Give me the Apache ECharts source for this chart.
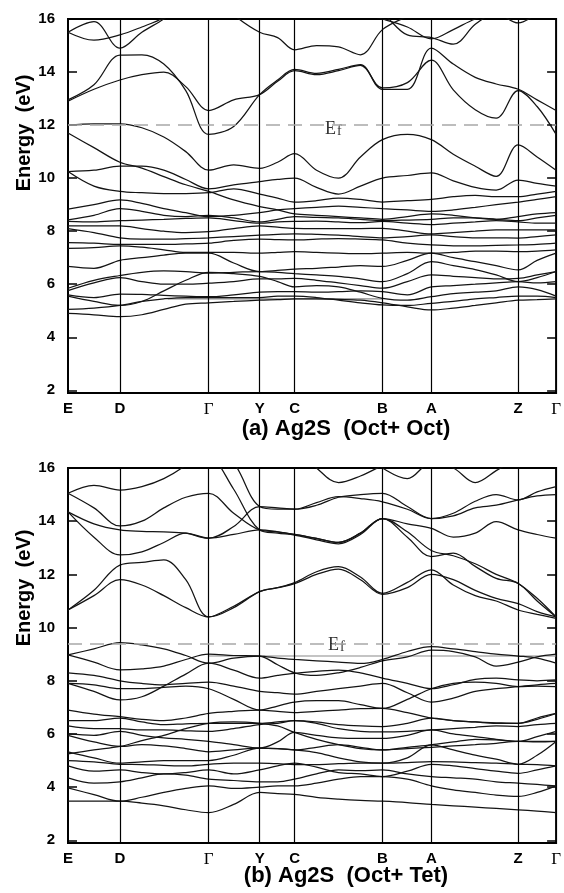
<!DOCTYPE html>
<html><head><meta charset="utf-8">
<script src="https://cdn.jsdelivr.net/npm/echarts@6/dist/echarts.min.js"></script>
<style>html,body{margin:0;padding:0;background:#fff}#c{width:564px;height:893px}</style>
</head><body><div id="c"></div>
<script>
// k-path sample positions (path length units) and high-symmetry points
const K = [0,26,52,74,96,118,141,166,192,210,227,249,271,293,315,340,364,386,408,429,451,470,489];
const symPos = [0,52,141,192,227,315,364,451,489];
const symLab = ['E','D','Γ','Y','C','B','A','Z','Γ'];
const yTicks = [2,4,6,8,10,12,14,16];
const efTop = 12.0, efBot = 9.4;
const flatTop = {from:100, to:315, e:5.45};
const flatBot = {from:141, to:489, e:8.93};

// (a) Oct+Oct bands
const A01=[15.5,15.9,14.9,15.5,16.0,16.6,17,16.15,15.5,15.3,14.84,15.0,14.95,14.65,15.6,16.1,16.5,16.6,16.5,16.3,16.4,16.7,17];
const A02=[15.5,15.2,15.4,15.7,16.05,16.6,17,17,17,17,16.8,16.6,16.4,16.2,16.0,15.7,15.25,15.6,16.0,16.2,15.85,16.2,16.6];
const A03=[17,17,17,17,17,17,17,17,17,17,17,17,16.8,16.5,16.2,15.4,15.3,15.05,15.8,16.3,16.6,17,17];
const A04=[12.95,13.52,14.64,14.65,14.3,13.3,11.65,11.95,13.15,13.7,14.1,13.95,14.1,14.28,13.35,13.35,14.9,14.3,13.8,13.55,13.35,12.95,12.55];
const A05=[12.9,13.35,13.7,13.9,14.0,13.45,12.55,12.95,13.15,13.65,14.05,13.9,14.05,14.25,13.4,13.6,14.45,13.33,12.58,12.26,13.3,12.7,11.65];
const A06=[12.0,12.05,12.05,11.9,11.55,11.0,10.3,10.5,10.37,10.6,10.92,10.3,10.0,10.8,11.45,11.65,11.45,10.9,10.45,10.07,11.25,10.8,10.3];
const A07=[11.7,11.15,10.6,10.38,10.06,9.75,9.5,9.18,8.93,8.8,8.65,8.6,8.55,8.5,8.45,8.55,8.65,8.6,8.5,8.45,8.55,8.65,8.7];
const A08=[10.25,10.3,10.45,10.45,10.3,9.95,9.6,9.75,9.87,9.95,10.0,9.65,9.4,9.7,10.0,10.1,10.2,9.9,9.65,9.55,9.93,9.8,9.7];
const A09=[10.25,9.7,9.5,9.45,9.42,9.42,9.45,9.6,9.4,9.25,9.1,9.15,9.25,9.2,9.1,9.15,9.2,9.3,9.35,9.3,9.3,9.4,9.5];
const A10=[8.83,9.0,9.18,9.05,8.85,8.7,8.55,8.6,8.7,8.8,8.85,8.9,8.95,8.9,8.85,8.8,8.75,8.8,8.9,9.0,9.1,9.2,9.3];
const L01=[4.9,4.85,4.78,4.85,5.05,5.25,5.3,5.35,5.4,5.42,5.45,5.45,5.43,5.4,5.3,5.15,5.03,5.1,5.2,5.3,5.4,5.42,5.45];
const L02=[5.05,5.1,5.2,5.35,5.45,5.5,5.5,5.5,5.5,5.55,5.55,5.5,5.4,5.3,5.22,5.2,5.28,5.35,5.45,5.5,5.55,5.55,5.5];
const L03=[5.55,5.35,5.2,5.35,5.75,6.15,6.45,6.4,6.3,6.1,5.9,5.95,5.9,5.7,5.47,5.4,5.53,5.65,5.7,5.75,5.9,5.8,5.55];
const L04=[5.6,5.5,5.63,5.62,5.58,5.55,5.53,5.6,5.7,5.72,5.72,5.7,5.72,5.75,5.72,5.6,5.9,5.95,6.0,6.05,6.1,6.05,6.1];
const L05=[5.76,6.05,6.25,6.1,6.0,6.0,6.04,6.1,6.2,6.2,6.22,6.15,6.05,5.95,5.85,6.1,6.35,6.3,6.25,6.2,6.22,6.35,6.48];
const L06=[5.85,6.15,6.33,6.45,6.5,6.48,6.42,6.45,6.48,6.45,6.4,6.35,6.3,6.2,6.1,6.4,6.85,6.7,6.55,6.35,6.1,6.25,6.48];
const L07=[6.67,6.6,6.9,7.0,7.1,7.17,7.17,6.8,6.48,6.52,6.57,6.6,6.65,6.7,6.67,6.9,7.17,7.0,6.85,6.7,6.54,6.9,7.17];
const L08=[7.35,7.38,7.45,7.4,7.3,7.2,7.2,7.2,7.17,7.2,7.23,7.2,7.17,7.15,7.17,7.2,7.17,7.2,7.25,7.25,7.23,7.25,7.3];
const L09=[7.57,7.55,7.5,7.5,7.5,7.52,7.55,7.65,7.7,7.68,7.67,7.7,7.72,7.7,7.67,7.55,7.48,7.45,7.45,7.47,7.48,7.5,7.55];
const L10=[8.1,7.95,7.75,7.7,7.7,7.72,7.75,7.8,7.85,7.88,7.9,7.88,7.85,7.8,7.75,7.8,7.86,7.8,7.75,7.75,7.74,7.8,7.86];
const L11=[8.2,8.2,8.2,8.1,8.0,7.95,7.98,8.1,8.2,8.15,8.11,8.1,8.1,8.1,8.11,8.0,7.9,7.95,8.0,8.05,8.05,8.05,8.05];
const L12=[8.37,8.35,8.4,8.42,8.45,8.48,8.5,8.4,8.3,8.35,8.37,8.38,8.35,8.32,8.37,8.3,8.25,8.3,8.35,8.4,8.35,8.3,8.3];
const L13=[8.43,8.6,8.85,8.75,8.6,8.55,8.6,8.5,8.35,8.45,8.55,8.52,8.5,8.45,8.4,8.42,8.45,8.5,8.5,8.45,8.4,8.5,8.6];

// (b) Oct+Tet bands
const B01=[15.05,15.35,15.17,15.3,15.6,16.1,16.8,17,17,17,16.8,16.0,15.45,15.7,16.1,16.6,17,17,17,17,17,17,17];
const B02=[17,17,17,17,17,17,17,17,17,17,17,17,17,16.6,16.0,15.6,16.2,16.0,15.45,15.9,16.4,16.8,17];
const B03=[15.05,14.5,13.82,14.0,14.5,14.9,15.05,14.3,13.67,13.6,13.5,13.35,13.2,13.55,14.1,13.9,13.73,13.4,13.55,13.98,13.67,13.5,13.36];
const B04=[17,17,17,17,17,17,17,16.2,14.55,14.45,14.45,14.7,14.92,14.85,14.73,14.45,14.1,14.3,14.75,15.0,14.8,15.1,15.3];
const B05=[14.35,13.4,12.73,12.85,13.2,13.55,13.36,13.8,14.55,14.5,14.45,14.6,14.9,15.0,15.05,14.55,14.1,14.2,14.5,14.6,14.8,14.95,15.0];
const B06=[17,17,17,17,17,16.8,16.6,15.2,13.67,13.55,13.48,13.3,13.15,13.5,14.1,13.4,12.67,12.8,12.3,11.85,11.66,11.0,10.4];
const B07=[10.66,11.2,11.8,11.6,11.2,10.75,10.4,10.75,11.35,11.5,11.69,12.1,12.29,11.9,11.29,11.7,12.17,11.6,11.2,11.0,10.66,10.5,10.35];
const B08=[10.66,11.4,12.35,12.45,12.55,11.8,10.4,10.8,11.35,11.5,11.65,12.0,12.2,11.8,11.25,11.5,12.0,11.8,11.4,11.1,10.9,10.6,10.4];
const B09=[8.97,9.2,9.43,9.35,9.2,8.95,8.66,8.85,8.93,8.85,8.8,8.75,8.7,8.65,8.8,9.1,9.28,9.2,9.1,9.0,8.93,8.85,8.66];
const B10=[8.97,8.7,8.41,8.45,8.55,8.8,9.0,8.95,8.93,8.6,8.3,8.2,8.3,8.5,8.75,8.9,9.15,9.1,8.9,8.55,8.7,8.9,9.0];
const B11=[14.35,13.9,13.67,13.62,13.6,13.55,13.36,13.5,13.67,13.6,13.5,13.35,13.2,13.55,14.1,13.6,12.9,12.7,12.4,12.0,11.66,11.1,10.4];
const C01=[3.47,3.47,3.47,3.4,3.3,3.15,3.04,3.35,3.8,3.76,3.73,3.62,3.55,3.5,3.47,3.42,3.35,3.3,3.25,3.2,3.15,3.1,3.04];
const C02=[3.97,3.72,3.47,3.62,3.8,3.95,4.05,3.95,4.0,4.05,4.05,4.15,4.3,4.4,4.4,4.3,4.05,3.9,3.8,3.7,3.65,3.8,4.05];
const C03=[4.35,4.15,4.2,4.35,4.5,4.45,4.3,4.25,4.2,4.2,4.3,4.5,4.65,4.62,4.65,4.5,4.4,4.35,4.3,4.2,4.15,4.1,4.05];
const C04=[4.8,4.6,4.65,4.55,4.5,4.55,4.65,4.5,4.65,4.8,4.9,4.75,4.55,4.5,4.4,4.6,4.86,4.8,4.7,4.6,4.52,4.65,4.8];
const C05=[5.0,4.95,4.86,4.85,4.82,4.8,4.86,4.9,4.9,4.88,4.85,4.85,4.88,4.9,4.9,4.92,4.96,4.95,4.92,4.9,4.86,4.85,4.8];
const C06=[5.33,5.1,4.9,4.95,5.0,5.0,5.0,5.2,5.47,5.45,5.4,5.3,5.1,4.95,4.9,5.1,5.59,5.4,5.2,5.05,4.86,5.2,5.72];
const C07=[5.95,5.7,5.53,5.6,5.55,5.45,5.33,5.4,5.47,5.45,5.4,5.5,5.6,5.5,5.4,5.5,5.59,5.7,5.8,5.78,5.72,5.72,5.72];
const C08=[6.0,5.95,6.1,5.95,5.85,5.8,5.72,5.6,5.47,5.7,6.06,5.95,5.85,5.83,5.83,5.95,6.15,6.0,5.9,5.8,5.72,5.9,6.1];
const C09=[6.3,6.2,6.2,6.15,6.15,6.12,6.1,6.2,6.35,6.4,6.5,6.4,6.2,6.1,6.08,6.1,6.15,6.2,6.25,6.3,6.28,6.35,6.4];
const C10=[6.5,6.5,6.6,6.45,6.35,6.38,6.4,6.4,6.4,6.45,6.5,6.45,6.35,6.3,6.28,6.4,6.6,6.5,6.45,6.4,6.4,6.55,6.77];
const C11=[6.9,6.75,6.65,6.55,6.5,6.6,6.77,6.85,6.9,6.85,6.8,6.85,6.9,6.95,6.96,6.8,6.6,6.5,6.45,6.42,6.4,6.6,6.77];
const C12=[7.9,7.6,7.28,7.4,7.8,8.25,8.66,8.4,8.1,8.2,8.28,8.35,8.4,8.3,8.1,7.9,7.7,7.85,8.05,8.1,8.03,8.0,8.03];
const C13=[7.9,7.85,7.7,7.7,7.75,7.8,7.7,7.3,6.9,7.05,7.2,7.25,7.25,7.1,6.96,7.3,7.7,7.9,7.95,7.9,7.78,7.8,7.78];
const C14=[8.3,8.2,8.0,7.9,7.85,7.9,7.95,7.8,7.6,7.55,7.5,7.6,7.7,7.8,7.9,7.55,7.2,7.35,7.6,7.7,7.78,7.85,7.9];
const C15=[5.25,5.4,5.53,5.75,5.95,6.2,6.4,6.45,6.4,6.3,6.06,5.8,5.6,5.45,5.4,5.45,5.5,5.55,5.6,5.65,5.72,5.7,5.72];

const bandsTop=[A01,A02,A03,A04,A05,A06,A07,A08,A09,A10,L01,L02,L03,L04,L05,L06,L07,L08,L09,L10,L11,L12,L13];
const bandsBot=[B01,B02,B03,B04,B05,B06,B07,B08,B09,B10,B11,C01,C02,C03,C04,C05,C06,C07,C08,C09,C10,C11,C12,C13,C14,C15];

const chart = echarts.init(document.getElementById('c'), null, {renderer:'canvas'});
const lab = {fontFamily:'"Liberation Sans", Arial, sans-serif', fontWeight:'bold', fontSize:15, color:'#000'};
function xAx(i){return {gridIndex:i,type:'value',min:0,max:489,axisLine:{show:false},axisTick:{show:false},splitLine:{show:false},
  axisLabel:{customValues:symPos,margin:8,formatter:v=>{const j=symPos.indexOf(v);const s=symLab[j];return s==='Γ'?'{g|Γ}':'{b|'+s+'}';},
  rich:{b:lab,g:{fontFamily:'"Liberation Serif", serif',fontSize:17,color:'#000'}}}};}
function yAx(i,pos){return {gridIndex:i,type:'value',min:1.9,max:16,position:pos,axisLine:{show:false},splitLine:{show:false},
  axisTick:{show:true,inside:true,length:9,customValues:yTicks,lineStyle:{color:'#000',width:1.5}},
  axisLabel:{show:pos==='left',customValues:yTicks,margin:13,...lab}};}
const series=[];
function addBands(bands,gi){bands.forEach(b=>series.push({type:'line',xAxisIndex:gi,yAxisIndex:gi*2,data:K.map((k,i)=>[k,b[i]]),
  showSymbol:false,symbol:'none',smooth:0.35,lineStyle:{color:'#141414',width:1.25},silent:true,animation:false,z:3}));}
addBands(bandsTop,0); addBands(bandsBot,1);
function addFlat(f,gi){series.push({type:'line',xAxisIndex:gi,yAxisIndex:gi*2,data:[[f.from,f.e],[f.to,f.e]],showSymbol:false,symbol:'none',
  lineStyle:{color:'#8a8a8a',width:1.1},silent:true,animation:false,z:2});}
addFlat(flatTop,0); addFlat(flatBot,1);
[[0,efTop],[1,efBot]].forEach(([gi,ef])=>series.push({type:'line',xAxisIndex:gi,yAxisIndex:gi*2,data:[],silent:true,animation:false,
  markLine:{symbol:'none',silent:true,animation:false,label:{show:false},
   data:[...symPos.slice(1,-1).map(x=>({xAxis:x,lineStyle:{color:'#000',width:1.2,type:'solid'}})),
         {yAxis:ef,lineStyle:{color:'#a8a8a8',width:1.6,type:[14,8]}}]}}));
const yFont='bold 20px "Liberation Sans", Arial';
chart.setOption({
  backgroundColor:'#fff',animation:false,
  grid:[{left:68,right:7,top:19,height:374,show:true,borderColor:'#000',borderWidth:2,backgroundColor:'transparent'},
        {left:68,right:7,top:468,height:375,show:true,borderColor:'#000',borderWidth:2,backgroundColor:'transparent'}],
  xAxis:[xAx(0),xAx(1)],
  yAxis:[yAx(0,'left'),yAx(0,'right'),yAx(1,'left'),yAx(1,'right')],
  series:series,
  graphic:[
    {type:'text',style:{text:'Energy  (eV)',font:yFont,fill:'#000',align:'center',verticalAlign:'middle'},x:24,y:133,rotation:Math.PI/2},
    {type:'text',style:{text:'Energy  (eV)',font:yFont,fill:'#000',align:'center',verticalAlign:'middle'},x:24,y:588,rotation:Math.PI/2},
    {type:'text',style:{text:'(a) Ag2S  (Oct+ Oct)',font:'bold 22px "Liberation Sans", Arial',fill:'#000',align:'center',verticalAlign:'middle'},x:346,y:429},
    {type:'text',style:{text:'(b) Ag2S  (Oct+ Tet)',font:'bold 22px "Liberation Sans", Arial',fill:'#000',align:'center',verticalAlign:'middle'},x:346,y:876},
    {type:'text',style:{text:'E',font:'18px "Liberation Serif", serif',fill:'#333',align:'left',verticalAlign:'alphabetic'},x:325,y:120},
    {type:'text',style:{text:'f',font:'14px "Liberation Serif", serif',fill:'#333',align:'left',verticalAlign:'alphabetic'},x:337,y:124},
    {type:'text',style:{text:'E',font:'18px "Liberation Serif", serif',fill:'#333',align:'left',verticalAlign:'alphabetic'},x:328,y:636},
    {type:'text',style:{text:'f',font:'14px "Liberation Serif", serif',fill:'#333',align:'left',verticalAlign:'alphabetic'},x:340,y:640}
  ]
});
</script></body></html>
